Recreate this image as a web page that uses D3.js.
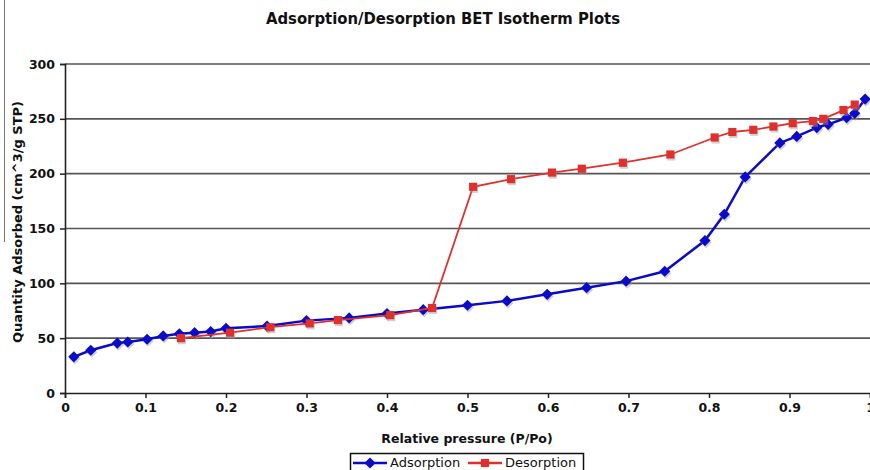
<!DOCTYPE html>
<html>
<head>
<meta charset="utf-8">
<script src="https://cdn.jsdelivr.net/npm/d3@7"></script>
<style>
  body { margin: 0; background: #fff; }
  svg { display: block; }
</style>
</head>
<body>
<script>
// values
const adsX = [0.011, 0.032, 0.065, 0.078, 0.102, 0.122, 0.142, 0.161, 0.181, 0.2, 0.251, 0.3, 0.353, 0.4, 0.445, 0.5, 0.549, 0.599, 0.648, 0.697, 0.745, 0.795, 0.819, 0.845, 0.888, 0.909, 0.934, 0.948, 0.971, 0.981, 0.994];
const adsY = [33, 39, 45.5, 46.5, 49, 52, 54, 55, 56, 59, 61, 66, 68.5, 72.5, 76, 80, 84, 90, 96, 102, 111, 139, 163, 197, 228, 234, 242, 245, 251, 255, 268];
const desX = [0.144, 0.205, 0.255, 0.304, 0.339, 0.404, 0.456, 0.507, 0.554, 0.605, 0.642, 0.693, 0.752, 0.807, 0.829, 0.855, 0.88, 0.904, 0.929, 0.942, 0.967, 0.981];
const desY = [50, 55, 60, 63.5, 66.5, 71, 77.5, 188, 195, 201, 204.5, 210, 217.5, 233, 238, 240, 243, 246, 248, 250, 258, 263];
const xTicks = [0, 0.1, 0.2, 0.3, 0.4, 0.5, 0.6, 0.7, 0.8, 0.9, 1];
const yTicks = [0, 50, 100, 150, 200, 250, 300];

const blue = "#0a0ac8", red = "#e0302e";

const margin = { top: 64, right: 0, bottom: 77, left: 65 },
    width = 870 - margin.left - margin.right,
    height = 470 - margin.top - margin.bottom;

const svg = d3.select("body")
    .append("svg")
    .attr("width", 870)
    .attr("height", 470);

const g = svg.append("g")
    .attr("transform", "translate(" + margin.left + "," + margin.top + ")");

const x = d3.scaleLinear().domain([0, 1]).range([0, width]);
const y = d3.scaleLinear().domain([0, 300]).range([height, 0]);

// stray border line at the left edge of the screenshot
svg.append("line")
    .attr("x1", 4.5).attr("x2", 4.5).attr("y1", 0).attr("y2", 242)
    .attr("stroke", "#777").attr("stroke-width", 1);

// title
svg.append("text")
    .attr("x", 443)
    .attr("y", 24)
    .attr("text-anchor", "middle")
    .style("font-family", "'DejaVu Sans Condensed', 'DejaVu Sans'")
    .style("font-weight", "bold")
    .style("font-size", "16.5px")
    .style("fill", "#111")
    .text("Adsorption/Desorption BET Isotherm Plots");

// gridlines
g.append("g")
    .selectAll("line")
    .data(yTicks.filter(d => d > 0))
    .join("line")
    .attr("x1", 0).attr("x2", width)
    .attr("y1", d => y(d)).attr("y2", d => y(d))
    .attr("stroke", "#555")
    .attr("stroke-width", 1.6);

// axes
const xAxis = g.append("g")
    .attr("transform", "translate(0," + height + ")")
    .call(d3.axisBottom(x).tickValues(xTicks).tickFormat(d => d).tickSize(5).tickPadding(5));
const yAxis = g.append("g")
    .call(d3.axisLeft(y).tickValues(yTicks).tickSize(5).tickPadding(5));

[xAxis, yAxis].forEach(a => {
    a.select(".domain").attr("stroke", "#222").attr("stroke-width", 1.6);
    a.selectAll(".tick line").attr("stroke", "#222").attr("stroke-width", 1.5);
    a.selectAll(".tick text")
        .style("font-family", "'DejaVu Sans'")
        .style("font-weight", "bold")
        .style("font-size", "12.5px")
        .style("fill", "#111");
});

// axis titles
svg.append("text")
    .attr("x", 467)
    .attr("y", 443)
    .attr("text-anchor", "middle")
    .style("font-family", "'DejaVu Sans'")
    .style("font-weight", "bold")
    .style("font-size", "12.5px")
    .style("fill", "#111")
    .text("Relative pressure (P/Po)");

svg.append("text")
    .attr("transform", "translate(22,222) rotate(-90)")
    .attr("text-anchor", "middle")
    .style("font-family", "'DejaVu Sans'")
    .style("font-weight", "bold")
    .style("font-size", "13px")
    .style("fill", "#111")
    .text("Quantity Adsorbed (cm^3/g STP)");

// series
const ads = adsX.map((d, i) => [d, adsY[i]]);
const des = desX.map((d, i) => [d, desY[i]]);
const line = d3.line().x(d => x(d[0])).y(d => y(d[1]));

const diamond = d3.symbol().type(d3.symbolDiamond2).size(80);
const square = d3.symbol().type(d3.symbolSquare2).size(85);

function drawSeries(data, color, width, sym) {
    g.append("path")
        .datum(data)
        .attr("d", line)
        .attr("fill", "none")
        .attr("stroke", color)
        .attr("stroke-width", width);
    // soft shadow under markers
    g.append("g")
        .selectAll("path")
        .data(data)
        .join("path")
        .attr("d", sym)
        .attr("transform", d => "translate(" + (x(d[0]) + 1) + "," + (y(d[1]) + 2) + ")")
        .attr("fill", "#999")
        .attr("opacity", 0.45);
    g.append("g")
        .selectAll("path")
        .data(data)
        .join("path")
        .attr("d", sym)
        .attr("transform", d => "translate(" + x(d[0]) + "," + y(d[1]) + ")")
        .attr("fill", color);
}

drawSeries(ads, blue, 2.5, diamond);
drawSeries(des, red, 1.8, square);

// legend (box runs off the bottom edge like the original)
const legend = svg.append("g").attr("transform", "translate(350,453)");
legend.append("rect")
    .attr("x", 0.5).attr("y", 0.5)
    .attr("width", 233).attr("height", 22)
    .attr("fill", "#fff")
    .attr("stroke", "#111")
    .attr("stroke-width", 1.5);

const items = [
    { name: "Adsorption", color: blue, sym: diamond, x: 3 },
    { name: "Desorption", color: red, sym: square, x: 118 }
];
items.forEach(it => {
    legend.append("line")
        .attr("x1", it.x).attr("x2", it.x + 34)
        .attr("y1", 10).attr("y2", 10)
        .attr("stroke", it.color)
        .attr("stroke-width", 2.5);
    legend.append("path")
        .attr("d", it.sym)
        .attr("transform", "translate(" + (it.x + 17) + ",10)")
        .attr("fill", it.color);
    legend.append("text")
        .attr("x", it.x + 37)
        .attr("y", 14)
        .style("font-family", "'DejaVu Sans'")
        .style("font-size", "13px")
        .style("fill", "#111")
        .text(it.name);
});
</script>
</body>
</html>
